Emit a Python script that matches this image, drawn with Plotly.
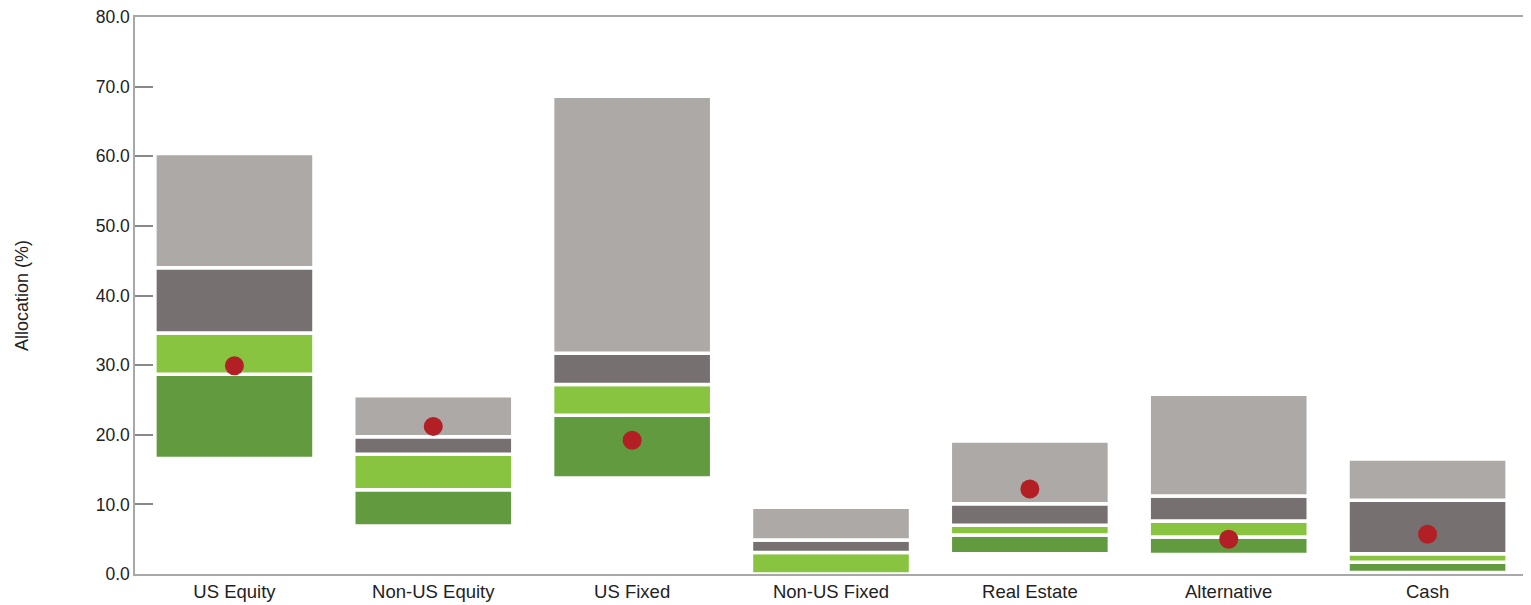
import plotly.graph_objects as go

categories = ["US Equity", "Non-US Equity", "US Fixed", "Non-US Fixed",
              "Real Estate", "Alternative", "Cash"]

# range boundaries (%), bottom to top
range_floor = [16.6, 6.9, 13.8, 0.0, 2.9, 2.8, 0.2]
dark_green_top = [28.7, 12.1, 22.8, 0.0, 5.6, 5.3, 1.7]
light_green_top = [34.6, 17.2, 27.2, 3.1, 7.0, 7.6, 2.9]
dark_gray_top = [44.0, 19.7, 31.7, 4.9, 10.1, 11.2, 10.6]
light_gray_top = [60.4, 25.6, 68.6, 9.6, 19.1, 25.8, 16.5]

current = [29.9, 21.2, 19.2, None, 12.2, 5.0, 5.7]

y_ticks = [0, 10, 20, 30, 40, 50, 60, 70, 80]

segments = [
    (range_floor, dark_green_top, "#629A40"),
    (dark_green_top, light_green_top, "#88C440"),
    (light_green_top, dark_gray_top, "#767070"),
    (dark_gray_top, light_gray_top, "#ACA9A7"),
]

fig = go.Figure()
for lo, hi, col in segments:
    fig.add_trace(go.Bar(
        x=categories, base=lo, y=[h - l for l, h in zip(lo, hi)],
        marker=dict(color=col, line=dict(color="white", width=3.5)),
        width=0.8, hoverinfo="skip", showlegend=False))

fig.add_trace(go.Scatter(
    x=categories, y=current, mode="markers",
    marker=dict(color="#B22025", size=19), showlegend=False))

# page body has an 8px margin, so the figure is sized to fit the window
fig.update_layout(
    width=1523, height=597, autosize=False,
    barmode="overlay", bargap=0.2,
    plot_bgcolor="white", paper_bgcolor="white",
    margin=dict(l=127, r=4, t=9, b=31),
    font=dict(family="Liberation Sans, Arial, sans-serif", size=16, color="#222"),
)
fig.update_yaxes(
    range=[0, 80], tickvals=y_ticks, tickformat=".1f",
    ticks="inside", ticklen=18, tickcolor="#888", tickwidth=1.5,
    ticklabeloverflow="allow", automargin=False,
    showgrid=False, zeroline=False,
    showline=True, linecolor="#A8A8A8", linewidth=1.5, mirror=True,
    title=dict(text="Allocation (%)", standoff=62, font=dict(size=18)),
    tickfont=dict(size=17.5),
)
fig.update_xaxes(
    showgrid=False, ticks="", tickfont=dict(size=18.5), automargin=False,
    showline=True, linecolor="#A8A8A8", linewidth=1.5, mirror=True,
)

fig.write_html("out.html")
